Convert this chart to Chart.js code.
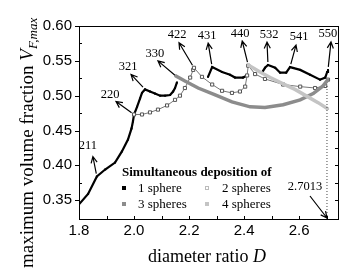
<!DOCTYPE html>
<html>
<head>
<meta charset="utf-8">
<script src="https://cdn.jsdelivr.net/npm/chart.js@4"></script>
<style>
  html, body { margin: 0; padding: 0; background: #fff; }
  #wrap { width: 363px; height: 273px; position: relative; }
</style>
</head>
<body>
<div id="wrap"><canvas id="vfChart"></canvas></div>
<script>
// 1 sphere (null = break in the curve)
const series1D = [1.800, 1.833, 1.865, 1.895, 1.931, 1.956, 1.978, 1.991, 1.996, 2.000, 2.011, 2.022, 2.029, 2.040, 2.058, 2.076, 2.095, 2.113, 2.131, 2.142, 2.149, 2.156,
  2.200,
  2.269, 2.284, 2.320, 2.349, 2.367, 2.396, 2.411,
  2.440,
  2.465, 2.476, 2.487, 2.513, 2.531, 2.553, 2.567, 2.604, 2.640, 2.676, 2.695, 2.702, 2.705];
const series1V = [0.344, 0.359, 0.384, 0.394, 0.404, 0.420, 0.437, 0.453, 0.463, 0.473, 0.484, 0.496, 0.504, 0.509, 0.506, 0.503, 0.500, 0.500, 0.501, 0.506, 0.511, 0.519,
  null,
  0.527, 0.541, 0.534, 0.530, 0.526, 0.526, 0.529,
  null,
  0.533, 0.540, 0.544, 0.540, 0.533, 0.533, 0.541, 0.537, 0.530, 0.523, 0.526, 0.534, 0.537];

// 2 spheres
const series2D = [2.000, 2.029, 2.058, 2.087, 2.120, 2.149, 2.167, 2.185, 2.204, 2.215, 2.218, 2.247, 2.284, 2.320, 2.356, 2.385, 2.404, 2.411, 2.415, 2.440, 2.476, 2.542, 2.604, 2.658, 2.695, 2.705];
const series2V = [0.473, 0.473, 0.476, 0.480, 0.486, 0.494, 0.500, 0.511, 0.526, 0.537, 0.540, 0.527, 0.516, 0.507, 0.504, 0.506, 0.513, 0.529, 0.543, 0.531, 0.524, 0.516, 0.513, 0.511, 0.514, 0.523];

// 3 spheres
const series3D = [2.149, 2.185, 2.233, 2.295, 2.356, 2.422, 2.476, 2.542, 2.604, 2.651, 2.687, 2.705];
const series3V = [0.529, 0.521, 0.511, 0.501, 0.491, 0.484, 0.483, 0.487, 0.494, 0.503, 0.514, 0.523];

// 4 spheres
const series4D = [2.415, 2.458, 2.495, 2.542, 2.585, 2.629, 2.669, 2.705];
const series4V = [0.544, 0.534, 0.526, 0.517, 0.509, 0.499, 0.490, 0.481];

// limit D = 2.7013
const limitD = [2.7013, 2.7013];
const limitV = [0.323, 0.515];

const xTicks = [1.8, 2.0, 2.2, 2.4, 2.6];
const yTicks = [0.35, 0.40, 0.45, 0.50, 0.55, 0.60];

const legendNames = ['1 sphere', '2 spheres', '3 spheres', '4 spheres'];

// labelled points on the curves
const annotText = ['211', '220', '321', '330', '422', '431', '440', '532', '541', '550', '2.7013'];
const annotD = [1.865, 2.000, 2.040, 2.156, 2.218, 2.284, 2.415, 2.487, 2.567, 2.705, 2.7013];
const annotV = [0.384, 0.473, 0.509, 0.527, 0.540, 0.541, 0.544, 0.544, 0.541, 0.537, 0.323];

// arrow head / label offsets in px from the point
const annotHead = [[-4, -20], [-18, -13], [-14, -15], [-19, -16], [-15, -25], [-4, -24], [-6, -24], [-1, -23], [6, -22], [3, -28], [-17, -23]];
const annotLabel = [[-9, -31], [-24, -20], [-17, -23], [-22, -23], [-17, -33], [-5, -31], [-8, -31], [1, -30], [9, -30], [0, -36], [-22, -32]];

const toPts = (xs, ys) => xs.map((x, i) => ({ x: x, y: ys[i] }));

const SERIF = '"Liberation Serif", "Times New Roman", serif';
const SANS = '"Liberation Sans", Arial, sans-serif';

const colors = ['#000000', '#555555', '#8c8c8c', '#c4c4c4'];

const extras = {
    id: 'extras',
    afterDatasetsDraw(chart) {
        const { ctx, chartArea: a, scales: { x, y } } = chart;
        ctx.save();
        ctx.strokeStyle = '#000';
        ctx.lineWidth = 1;
        ctx.strokeRect(a.left + 0.5, a.top + 0.5, a.right - a.left - 1, a.bottom - a.top);

        // x ticks (inward) every 0.1
        ctx.beginPath();
        for (let k = 0; k < 10; k++) {
            const v = 1.8 + k * 0.1;
            if (v > x.max) break;
            const px = Math.round(x.getPixelForValue(v)) + 0.5;
            ctx.moveTo(px, a.bottom);
            ctx.lineTo(px, a.bottom - 3);
        }
        // y ticks: major outward on left, minor inward; right side inward
        for (let k = 0; k <= 10; k++) {
            const v = 0.35 + k * 0.025;
            const py = Math.round(y.getPixelForValue(v)) + 0.5;
            if (k % 2 === 0) {
                ctx.moveTo(a.left, py); ctx.lineTo(a.left - 4, py);
            } else {
                ctx.moveTo(a.left, py); ctx.lineTo(a.left + 3, py);
            }
            ctx.moveTo(a.right - 1, py); ctx.lineTo(a.right - 4, py);
        }
        ctx.stroke();

        // annotations
        ctx.fillStyle = '#000';
        ctx.font = '12.5px ' + SERIF;
        ctx.textAlign = 'center';
        ctx.textBaseline = 'middle';
        ctx.lineWidth = 1.2;
        annotText.forEach((t, i) => {
            const px = x.getPixelForValue(annotD[i]);
            const py = y.getPixelForValue(annotV[i]);
            const [hx, hy] = annotHead[i];
            const [lx, ly] = annotLabel[i];
            ctx.fillText(t, px + lx, py + ly);
            let x0, y0, x1, y1;
            const len = Math.hypot(hx, hy);
            if (t === '2.7013') {
                // arrow from label down to the axis
                x0 = px + hx; y0 = py + hy; x1 = px; y1 = py - 1;
            } else {
                x0 = px + hx * 3 / len; y0 = py + hy * 3 / len; x1 = px + hx; y1 = py + hy;
            }
            const ang = Math.atan2(y1 - y0, x1 - x0);
            ctx.beginPath();
            ctx.moveTo(x0, y0); ctx.lineTo(x1, y1);
            ctx.moveTo(x1 - 7 * Math.cos(ang - 0.45), y1 - 7 * Math.sin(ang - 0.45));
            ctx.lineTo(x1, y1);
            ctx.lineTo(x1 - 7 * Math.cos(ang + 0.45), y1 - 7 * Math.sin(ang + 0.45));
            ctx.stroke();
        });

        // legend
        ctx.textAlign = 'left';
        ctx.textBaseline = 'alphabetic';
        ctx.font = 'bold 13px ' + SERIF;
        ctx.fillText('Simultaneous deposition of', 122, 176);
        ctx.font = '13px ' + SERIF;
        const lx = [124, 207], ly = [188, 204], tx = [138, 222];
        legendNames.forEach((n, i) => {
            const c = i % 2, r = Math.floor(i / 2);
            if (i === 1) {
                ctx.strokeStyle = '#bbb'; ctx.lineWidth = 1;
                ctx.strokeRect(lx[c] - 1.5, ly[r] - 1.5, 3, 3);
            } else {
                ctx.fillStyle = colors[i];
                ctx.fillRect(lx[c] - 2, ly[r] - 2, 4, 4);
            }
            ctx.fillStyle = '#000';
            ctx.fillText(n, tx[c], ly[r] + 4);
        });

        // axis titles
        ctx.font = '18px ' + SERIF;
        const xa = 'diameter ratio ';
        ctx.font = '18px ' + SERIF;
        const w1 = ctx.measureText(xa).width;
        ctx.font = 'italic 18px ' + SERIF;
        const w2 = ctx.measureText('D').width;
        const sx = (a.left + a.right) / 2 - (w1 + w2) / 2 - 2;
        ctx.font = '18px ' + SERIF;
        ctx.fillText(xa, sx, 262);
        ctx.font = 'italic 18px ' + SERIF;
        ctx.fillText('D', sx + w1, 262);

        ctx.translate(33, 268);
        ctx.rotate(-Math.PI / 2);
        const ya = 'maximum volume fraction ';
        ctx.font = '19px ' + SERIF;
        ctx.fillText(ya, 0, 0);
        const m1 = ctx.measureText(ya).width;
        ctx.font = 'italic 19px ' + SERIF;
        ctx.fillText('V', m1, 0);
        const m2 = ctx.measureText('V').width;
        ctx.font = 'italic 13px ' + SERIF;
        ctx.fillText('F,max', m1 + m2, 4);
        ctx.restore();
    }
};

new Chart(document.getElementById('vfChart'), {
    type: 'scatter',
    data: {
        datasets: [
            {
                data: toPts(limitD, limitV),
                showLine: true,
                borderColor: '#444',
                borderWidth: 1,
                borderDash: [1, 2],
                pointRadius: 0
            },
            {
                data: toPts(series4D, series4V),
                showLine: true,
                borderColor: colors[3],
                borderWidth: 3.5,
                pointStyle: 'rect',
                pointRadius: 1.5,
                backgroundColor: colors[3],
                pointBorderWidth: 0
            },
            {
                data: toPts(series3D, series3V),
                showLine: true,
                borderColor: colors[2],
                borderWidth: 3.5,
                pointStyle: 'rect',
                pointRadius: 1.5,
                backgroundColor: colors[2],
                pointBorderWidth: 0
            },
            {
                data: toPts(series2D, series2V),
                showLine: true,
                borderColor: '#777',
                borderWidth: 1,
                pointStyle: 'rect',
                pointRadius: 2.2,
                backgroundColor: '#fff',
                pointBorderColor: colors[1],
                pointBorderWidth: 1
            },
            {
                data: toPts(series1D, series1V),
                showLine: true,
                spanGaps: false,
                borderColor: colors[0],
                borderWidth: 2.2,
                pointStyle: 'rect',
                pointRadius: 1.4,
                backgroundColor: colors[0],
                pointBorderWidth: 0
            }
        ]
    },
    options: {
        responsive: true,
        maintainAspectRatio: false,
        animation: false,
        layout: { padding: { top: 26, right: 24, left: 0, bottom: 0 } },
        plugins: {
            legend: { display: false },
            tooltip: { enabled: false }
        },
        scales: {
            x: {
                type: 'linear',
                min: 1.8,
                max: 2.745,
                afterFit: s => { s.height = 54; },
                afterBuildTicks: s => { s.ticks = xTicks.map(v => ({ value: v })); },
                ticks: {
                    padding: 3,
                    color: '#000',
                    font: { family: SANS, size: 15 },
                    callback: v => Number(v).toFixed(1)
                },
                grid: { display: false, drawTicks: false },
                border: { display: false }
            },
            y: {
                type: 'linear',
                min: 0.323,
                max: 0.60,
                afterFit: s => { s.width = 79; },
                afterBuildTicks: s => { s.ticks = yTicks.map(v => ({ value: v })); },
                ticks: {
                    padding: 7,
                    color: '#000',
                    font: { family: SANS, size: 15 },
                    callback: v => Number(v).toFixed(2)
                },
                grid: { display: false, drawTicks: false },
                border: { display: false }
            }
        }
    },
    plugins: [extras]
});
</script>
</body>
</html>
